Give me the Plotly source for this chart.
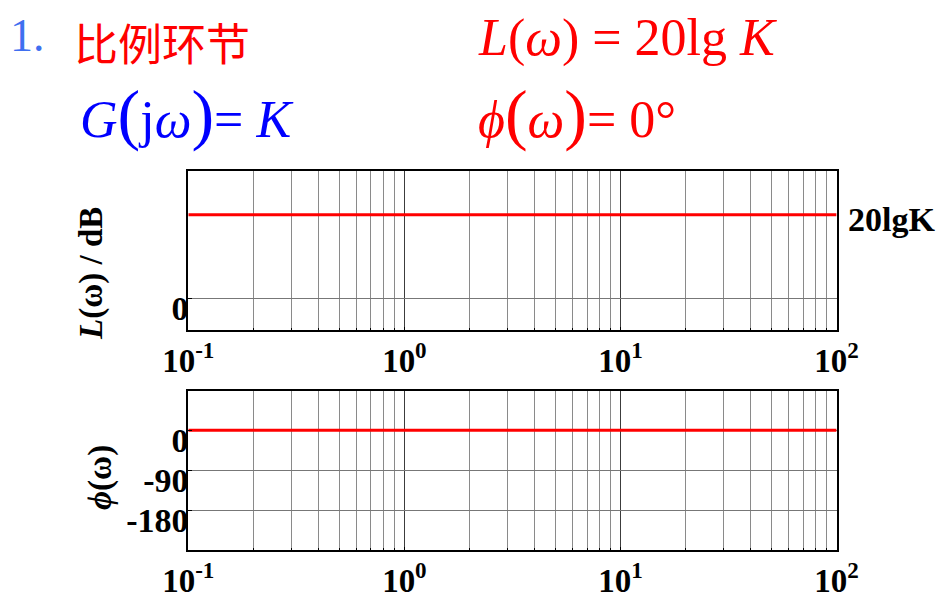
import plotly.graph_objects as go

# ── Données ───────────────────────────────────────────────────────
omega     = [0.1, 100]          # rad/s
mag_db    = [20, 20]            # 20 lg K (K = 10)
phase_deg = [0, 0]

decades       = [0.1, 1, 10, 100]
decade_labels = ['10<sup>-1</sup>', '10<sup>0</sup>', '10<sup>1</sup>', '10<sup>2</sup>']
minor_steps   = [2, 3, 4, 5, 6, 7, 8, 9]

mag_ticks       = [0]
mag_ticktext    = ['0']
phase_ticks     = [0, -90, -180]
phase_ticktext  = ['0', '-90', '-180']

# ── Constantes de mise en page ───────────────────────────────────
W, H   = 950, 604
OFF    = 8            # marge par défaut du <body> dans la page
SERIF  = 'Liberation Serif'
CJK    = 'Noto Sans CJK SC'
RED    = '#ff0000'
BLUE   = '#0000ff'


def px(x):
    return (x - OFF) / W


def py(y):
    return 1 - (y - OFF) / H


X_DOM   = [px(188.3), px(836.6)]
Y_DOM_1 = [py(330.3), py(170.7)]
Y_DOM_2 = [py(550.3), py(390.7)]

minor_vals = [d * m for d in decades[:-1] for m in minor_steps]


def x_axis(anchor):
    return dict(
        type='log', range=[-1, 2], domain=X_DOM, anchor=anchor,
        tickvals=decades, ticktext=decade_labels,
        tickfont=dict(family=SERIF, size=33, color='black', weight='bold'),
        ticks='inside', ticklen=3, tickcolor='black', ticklabelstandoff=0,
        showgrid=True, gridcolor='#3c3c3c', gridwidth=1,
        minor=dict(tickvals=minor_vals, showgrid=True, gridcolor='#8a8a8a',
                   gridwidth=1, ticks='inside', ticklen=2, tickcolor='black'),
        showline=True, linecolor='black', linewidth=2, mirror=True,
        zeroline=False, automargin=False, fixedrange=True,
    )


def y_axis(anchor, dom, rng, tickvals, ticktext):
    return dict(
        range=rng, domain=dom, anchor=anchor,
        tickvals=tickvals, ticktext=ticktext,
        tickfont=dict(family=SERIF, size=34, color='black', weight='bold'),
        ticks='inside', ticklen=4, tickcolor='black',
        ticklabelstandoff=-9, ticklabelshift=10,
        showgrid=True, gridcolor='#777777', gridwidth=1,
        showline=True, linecolor='black', linewidth=2, mirror=True,
        zeroline=False, automargin=False, fixedrange=True,
    )


fig = go.Figure()
fig.add_trace(go.Scatter(x=omega, y=mag_db, mode='lines', xaxis='x', yaxis='y',
                         line=dict(color=RED, width=3), showlegend=False))
fig.add_trace(go.Scatter(x=omega, y=phase_deg, mode='lines', xaxis='x2', yaxis='y2',
                         line=dict(color=RED, width=3), showlegend=False))

big = lambda s, size: f'<span style="font-size:{size}px">{s}</span>'

annotations = [
    # en-tête (ancré en haut pour rester dans la figure)
    dict(text='1.', x=px(OFF), y=1, yanchor='top',
         font=dict(family=SERIF, size=46, color='#3f6ff0')),
    dict(text='比例环节', x=px(72), y=1, yanchor='top',
         font=dict(family=CJK, size=44, color=RED)),
    dict(text='<i>L</i>(<i>ω</i>) = 20lg <i>K</i>', x=px(476), y=py(38),
         font=dict(family=SERIF, size=52, color=RED)),
    dict(text=f'<i>G</i>{big("(", 68)}j<i>ω</i>{big(")", 68)}= <i>K</i>', x=px(78), y=py(114),
         font=dict(family=SERIF, size=52, color=BLUE)),
    dict(text=f'<i>ϕ</i>{big("(", 68)}<i>ω</i>{big(")", 68)}= 0°', x=px(476), y=py(114),
         font=dict(family=SERIF, size=52, color=RED)),
    # titres d'axes
    dict(text='<i>L</i>(ω) / dB', x=px(92), y=py(274), xanchor='center', textangle=-90,
         font=dict(family=SERIF, size=33, color='black', weight='bold')),
    dict(text='<i>ϕ</i>(ω)', x=px(100), y=py(478), xanchor='center', textangle=-90,
         font=dict(family=SERIF, size=33, color='black', weight='bold')),
]
for a in annotations:
    a.setdefault('xanchor', 'left')
    a.setdefault('yanchor', 'middle')
    a.update(xref='paper', yref='paper', showarrow=False)

# étiquette 20lgK à droite, au niveau de la courbe
annotations.append(dict(
    text='20lgK', xref='paper', yref='y', x=X_DOM[1], y=mag_db[0], xshift=9, yshift=-5,
    xanchor='left', yanchor='middle', showarrow=False,
    font=dict(family=SERIF, size=34, color='black', weight='bold'),
))

fig.update_layout(
    width=W, height=H, margin=dict(l=0, r=0, t=0, b=0, pad=0),
    paper_bgcolor='white', plot_bgcolor='white',
    xaxis=x_axis('y'),
    yaxis=y_axis('x', Y_DOM_1, [-7.7, 30.6], mag_ticks, mag_ticktext),
    xaxis2=x_axis('y2'),
    yaxis2=y_axis('x2', Y_DOM_2, [-270, 89], phase_ticks, phase_ticktext),
    annotations=annotations,
)

fig.write_html('out.html')
